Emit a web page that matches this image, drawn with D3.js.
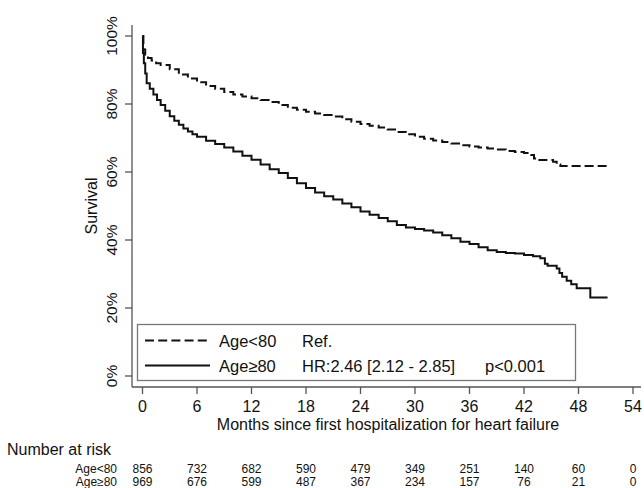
<!DOCTYPE html>
<html>
<head>
<meta charset="utf-8">
<script src="https://cdn.jsdelivr.net/npm/d3@7"></script>
<style>
  body { margin: 0; background: #fff; }
  svg text { font-family: "Liberation Sans", Arial, sans-serif; fill: #111; }
</style>
</head>
<body>
<div id="km-chart"></div>
<script>
// Kaplan-Meier estimates (months, survival fraction)
const youngTimes = [0, 0.1, 0.3, 0.6, 1, 1.5, 2, 3, 4, 5, 6, 7, 8, 9, 10, 11, 12, 13, 14, 15, 16, 17, 18, 19, 20,
    21, 22, 23, 24, 25, 26, 27, 28, 29, 30, 31, 32, 33, 34, 35, 36, 37, 38, 39, 40, 41, 42, 42.8, 43.1, 43.4,
    45.2, 45.6, 46, 51.2];
const youngSurv = [1.00, 0.96, 0.945, 0.935, 0.928, 0.92, 0.915, 0.902, 0.887, 0.875, 0.864, 0.853, 0.845, 0.835,
    0.828, 0.822, 0.817, 0.812, 0.806, 0.797, 0.789, 0.783, 0.777, 0.772, 0.768, 0.763, 0.755, 0.748, 0.741,
    0.736, 0.731, 0.725, 0.718, 0.711, 0.704, 0.698, 0.693, 0.688, 0.684, 0.679, 0.675, 0.672, 0.669, 0.666,
    0.662, 0.659, 0.656, 0.65, 0.64, 0.635, 0.63, 0.622, 0.618, 0.618];

const oldTimes = [0, 0.05, 0.15, 0.3, 0.46, 0.8, 1.2, 1.6, 2, 2.5, 3, 3.5, 4, 4.5, 5, 5.5, 6, 7, 8, 9, 10, 11, 12,
    13, 14, 15, 16, 17, 18, 19, 20, 21, 22, 23, 24, 25, 26, 27, 28, 29, 30, 31, 32, 33, 34, 35, 36, 37, 38, 39,
    40, 41, 42, 43, 43.8, 44.3, 44.6, 45.6, 45.9, 46.2, 46.7, 47.2, 47.8, 49.3, 51.2];
const oldSurv = [1.00, 0.95, 0.92, 0.89, 0.861, 0.845, 0.828, 0.812, 0.797, 0.78, 0.764, 0.751, 0.739, 0.728,
    0.719, 0.711, 0.704, 0.692, 0.682, 0.672, 0.66, 0.648, 0.636, 0.622, 0.608, 0.597, 0.582, 0.567, 0.553,
    0.54, 0.529, 0.519, 0.507, 0.496, 0.484, 0.474, 0.465, 0.455, 0.444, 0.437, 0.432, 0.428, 0.422, 0.414,
    0.405, 0.395, 0.388, 0.379, 0.37, 0.365, 0.362, 0.36, 0.356, 0.352, 0.346, 0.33, 0.324, 0.316, 0.303,
    0.292, 0.28, 0.27, 0.258, 0.231, 0.231];

const xTicks = [0, 6, 12, 18, 24, 30, 36, 42, 48, 54];
const yTicks = [0, 0.2, 0.4, 0.6, 0.8, 1.0];
const groupLabels = ["Age<80", "Age\u226580"];
const legendNotes = ["Ref.", "HR:2.46 [2.12 - 2.85]"];
const pValue = "p<0.001";
const riskYoung = [856, 732, 682, 590, 479, 349, 251, 140, 60, 0];
const riskOld = [969, 676, 599, 487, 367, 234, 157, 76, 21, 0];

const width = 644, height = 488;

const svg = d3.select("#km-chart")
    .append("svg")
    .attr("width", width)
    .attr("height", height);

const x = d3.scaleLinear().domain([0, 54]).range([142.5, 633]);
const y = d3.scaleLinear().domain([0, 1]).range([376, 36]);

const axisColor = "#555";

// y axis (offset from plot region, Stata style)
svg.append("line")
    .attr("x1", 132).attr("x2", 132).attr("y1", 25).attr("y2", 387)
    .attr("stroke", axisColor).attr("stroke-width", 1.3);

svg.append("g")
    .selectAll("line")
    .data(yTicks)
    .join("line")
    .attr("x1", 125).attr("x2", 132)
    .attr("y1", d => y(d)).attr("y2", d => y(d))
    .attr("stroke", axisColor).attr("stroke-width", 1.3);

svg.append("g")
    .selectAll("text")
    .data(yTicks)
    .join("text")
    .attr("transform", d => `translate(117,${y(d)}) rotate(-90)`)
    .attr("text-anchor", "middle")
    .style("font-size", "15.5px")
    .text(d => d3.format(".0%")(d));

svg.append("text")
    .attr("transform", `translate(97,${y(0.5)}) rotate(-90)`)
    .attr("text-anchor", "middle")
    .style("font-size", "16px")
    .text("Survival");

// x axis
svg.append("line")
    .attr("x1", 132).attr("x2", 641).attr("y1", 387).attr("y2", 387)
    .attr("stroke", axisColor).attr("stroke-width", 1.3);

svg.append("g")
    .selectAll("line")
    .data(xTicks)
    .join("line")
    .attr("x1", d => x(d)).attr("x2", d => x(d))
    .attr("y1", 387).attr("y2", 394)
    .attr("stroke", axisColor).attr("stroke-width", 1.3);

svg.append("g")
    .selectAll("text")
    .data(xTicks)
    .join("text")
    .attr("x", d => x(d))
    .attr("y", 412)
    .attr("text-anchor", "middle")
    .style("font-size", "16px")
    .text(d => d);

svg.append("text")
    .attr("x", 388)
    .attr("y", 430)
    .attr("text-anchor", "middle")
    .style("font-size", "16px")
    .text("Months since first hospitalization for heart failure");

// survival curves
const line = d3.line()
    .x(d => x(d[0]))
    .y(d => y(d[1]))
    .curve(d3.curveStepAfter);

svg.append("path")
    .datum(d3.zip(youngTimes, youngSurv))
    .attr("fill", "none")
    .attr("stroke", "#111")
    .attr("stroke-width", 2)
    .attr("stroke-dasharray", "9,4")
    .attr("d", line);

svg.append("path")
    .datum(d3.zip(oldTimes, oldSurv))
    .attr("fill", "none")
    .attr("stroke", "#111")
    .attr("stroke-width", 2)
    .attr("d", line);

// legend
const legend = svg.append("g");
legend.append("rect")
    .attr("x", 137.5).attr("y", 324.5)
    .attr("width", 438).attr("height", 56)
    .attr("fill", "#fff")
    .attr("stroke", "#777").attr("stroke-width", 1.3);

const legendRows = [340.5, 365.5];
legendRows.forEach((ly, i) => {
    legend.append("line")
        .attr("x1", 145).attr("x2", 210)
        .attr("y1", ly).attr("y2", ly)
        .attr("stroke", "#111").attr("stroke-width", 2)
        .attr("stroke-dasharray", i === 0 ? "9,4.2" : null);
    legend.append("text")
        .attr("x", 219).attr("y", ly + 6)
        .style("font-size", "16.5px")
        .text(groupLabels[i]);
    legend.append("text")
        .attr("x", 302).attr("y", ly + 6)
        .style("font-size", "16.5px")
        .text(legendNotes[i]);
});
legend.append("text")
    .attr("x", 485).attr("y", legendRows[1] + 6)
    .style("font-size", "16.5px")
    .text(pValue);

// number at risk table
svg.append("text")
    .attr("x", 7).attr("y", 455)
    .style("font-size", "16px")
    .text("Number at risk");

const riskRows = [
    { label: groupLabels[0], values: riskYoung, y: 473 },
    { label: groupLabels[1], values: riskOld, y: 486 }
];

riskRows.forEach(row => {
    svg.append("text")
        .attr("x", 117).attr("y", row.y)
        .attr("text-anchor", "end")
        .style("font-size", "12px")
        .text(row.label);
    svg.append("g")
        .selectAll("text")
        .data(row.values)
        .join("text")
        .attr("x", (d, i) => x(xTicks[i]))
        .attr("y", row.y)
        .attr("text-anchor", "middle")
        .style("font-size", "12px")
        .text(d => d);
});
</script>
</body>
</html>
